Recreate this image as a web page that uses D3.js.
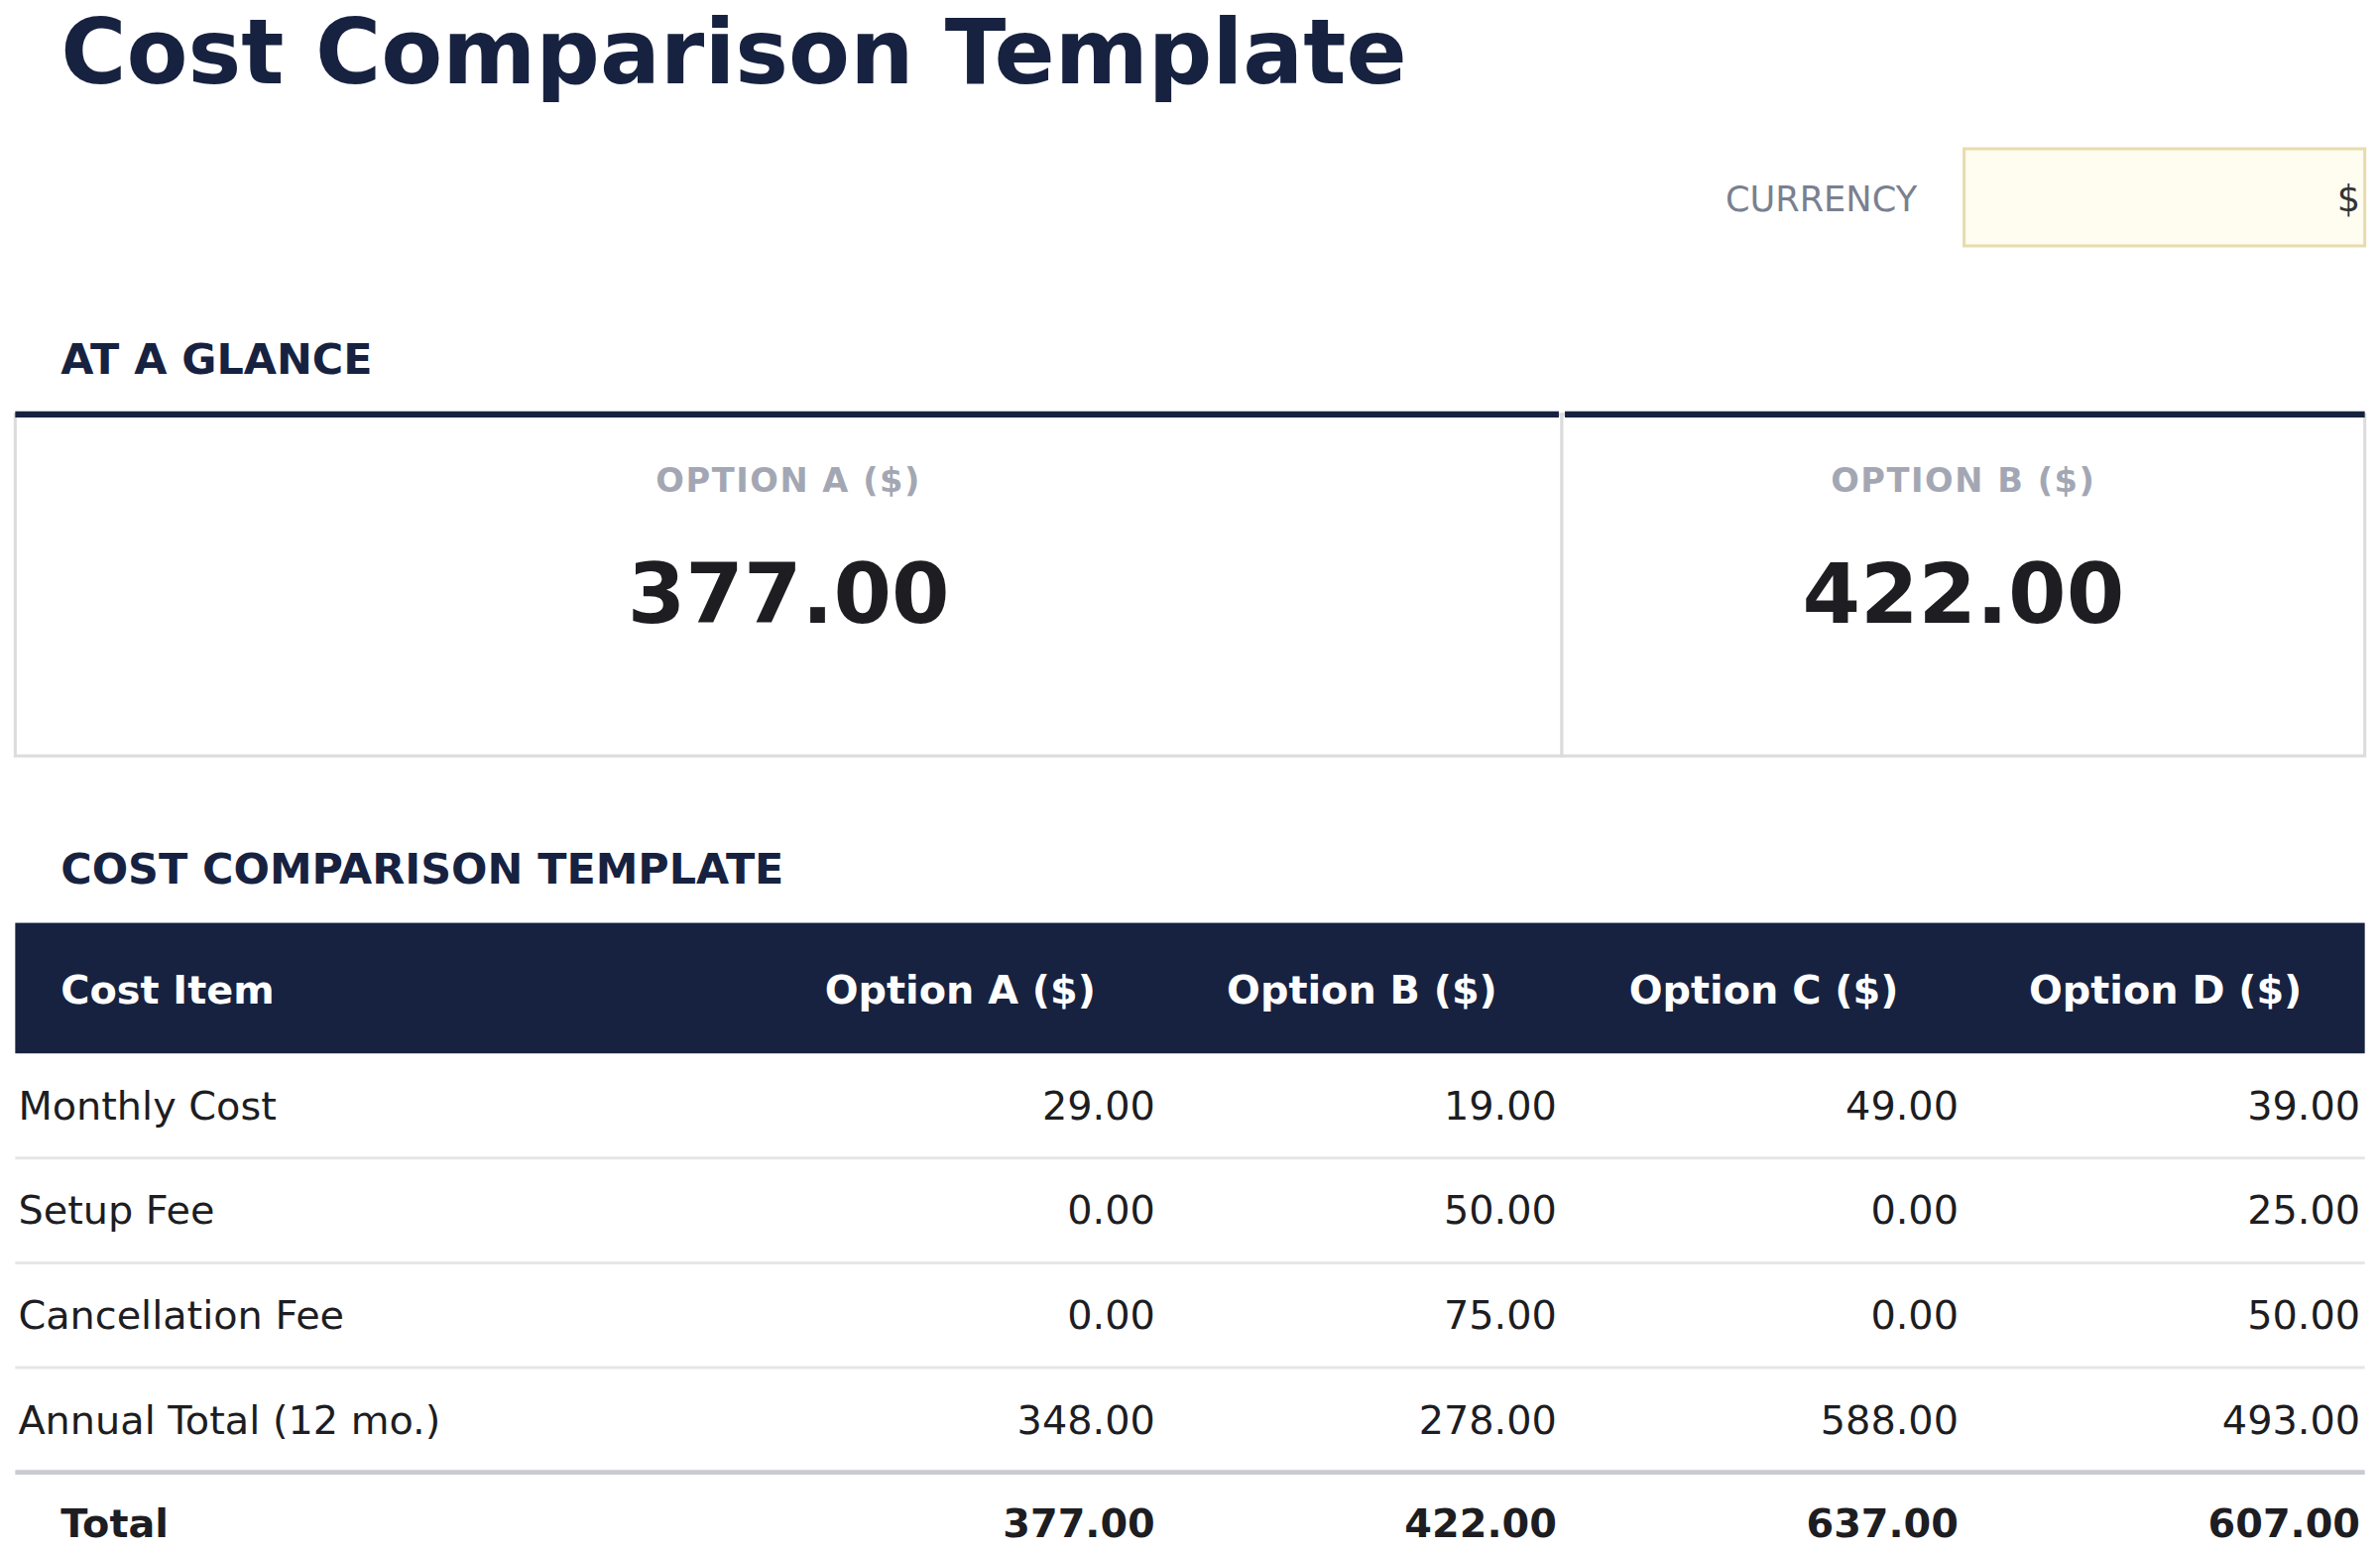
<!DOCTYPE html>
<html><head><meta charset="utf-8">
<script src="https://cdn.jsdelivr.net/npm/d3@7"></script>
<style>body{margin:0;background:#fff}svg{display:block}</style></head>
<body><svg id="c" width="2400" height="1565" viewBox="0 0 1568 1022.5"></svg>
<script>
const options = ["Option A ($)","Option B ($)","Option C ($)","Option D ($)"];
const items = ["Monthly Cost","Setup Fee","Cancellation Fee","Annual Total (12 mo.)"];
const optA = [29,0,0,348];
const optB = [19,50,75,278];
const optC = [49,0,0,588];
const optD = [39,25,50,493];
const totals = [377,422,637,607];
const glance = [{label:"OPTION A ($)",value:377},{label:"OPTION B ($)",value:422}];

const svg = d3.select("#c");
const F = "DejaVu Sans, sans-serif", NAVY="#172240", INK="#1d1d22";
const fmt = d3.format(".2f");
svg.append("text").attr("x",40).attr("y",55).text("Cost Comparison Template")
  .attr("font-family",F).attr("font-size",59).attr("font-weight","bold").attr("fill",NAVY);
svg.append("text").attr("x",1263).attr("y",139).attr("text-anchor","end").text("CURRENCY")
  .attr("font-family",F).attr("font-size",23).attr("fill","#7a8090");
svg.append("rect").attr("x",1294).attr("y",98).attr("width",264).attr("height",64)
  .attr("fill","#fffcf0").attr("stroke","#e8dcae").attr("stroke-width",2);
svg.append("text").attr("x",1555).attr("y",139).attr("text-anchor","end").text("$")
  .attr("font-family",F).attr("font-size",24).attr("fill","#333");

svg.append("text").attr("x",40).attr("y",246).text("AT A GLANCE")
  .attr("font-family",F).attr("font-size",28).attr("font-weight","bold").attr("fill",NAVY);
const gx = d3.scaleLinear().domain([0,2]).range([10,1558]);
const cardX = [[10,1029],[1029,1558]];
glance.forEach((g,i)=>{
  const [x0,x1]=cardX[i];
  svg.append("rect").attr("x",x0).attr("y",273).attr("width",x1-x0).attr("height",225)
    .attr("fill","#fff").attr("stroke","#dcdcdc").attr("stroke-width",2);
  svg.append("line").attr("x1",x0+(i?2:0)).attr("x2",x1-(i?0:2)).attr("y1",273).attr("y2",273)
    .attr("stroke",NAVY).attr("stroke-width",4);
  const cx=(x0+x1)/2;
  svg.append("text").attr("x",cx).attr("y",324).attr("text-anchor","middle").text(g.label)
    .attr("font-family",F).attr("font-size",22).attr("font-weight","bold").attr("fill","#a3a7b3").attr("letter-spacing",1);
  svg.append("text").attr("x",cx).attr("y",410).attr("text-anchor","middle").text(fmt(g.value))
    .attr("font-family",F).attr("font-size",55).attr("font-weight","bold").attr("fill",INK);
});

svg.append("text").attr("x",40).attr("y",582).text("COST COMPARISON TEMPLATE")
  .attr("font-family",F).attr("font-size",28).attr("font-weight","bold").attr("fill",NAVY);
svg.append("rect").attr("x",10).attr("y",608).attr("width",1548).attr("height",86).attr("fill",NAVY);
const colRight = d3.scalePoint().domain(options).range([761,1555]);
const colW = colRight.step();
svg.append("text").attr("x",40).attr("y",661).text("Cost Item")
  .attr("font-family",F).attr("font-size",26).attr("font-weight","bold").attr("fill","#fff");
options.forEach(o=>{
  svg.append("text").attr("x",colRight(o)-colW/2+4).attr("y",661).attr("text-anchor","middle").text(o)
    .attr("font-family",F).attr("font-size",26).attr("font-weight","bold").attr("fill","#fff");
});
const y = d3.scaleBand().domain(items).range([694,970]);
const series=[optA,optB,optC,optD];
items.forEach((it,r)=>{
  const yb=y(it)+y.bandwidth()/2+9;
  svg.append("text").attr("x",12).attr("y",yb).text(it)
    .attr("font-family",F).attr("font-size",26).attr("fill",INK);
  options.forEach((o,c)=>{
    svg.append("text").attr("x",colRight(o)).attr("y",yb).attr("text-anchor","end").text(fmt(series[c][r]))
      .attr("font-family",F).attr("font-size",26).attr("fill",INK);
  });
  const last = r===items.length-1;
  svg.append("line").attr("x1",10).attr("x2",1558).attr("y1",y(it)+y.bandwidth()).attr("y2",y(it)+y.bandwidth())
    .attr("stroke",last?"#c8cbd0":"#e6e6e6").attr("stroke-width",last?3:2);
});
svg.append("text").attr("x",40).attr("y",1013).text("Total")
  .attr("font-family",F).attr("font-size",26).attr("font-weight","bold").attr("fill",INK);
options.forEach((o,c)=>{
  svg.append("text").attr("x",colRight(o)).attr("y",1013).attr("text-anchor","end").text(fmt(totals[c]))
    .attr("font-family",F).attr("font-size",26).attr("font-weight","bold").attr("fill",INK);
});
</script></body></html>
